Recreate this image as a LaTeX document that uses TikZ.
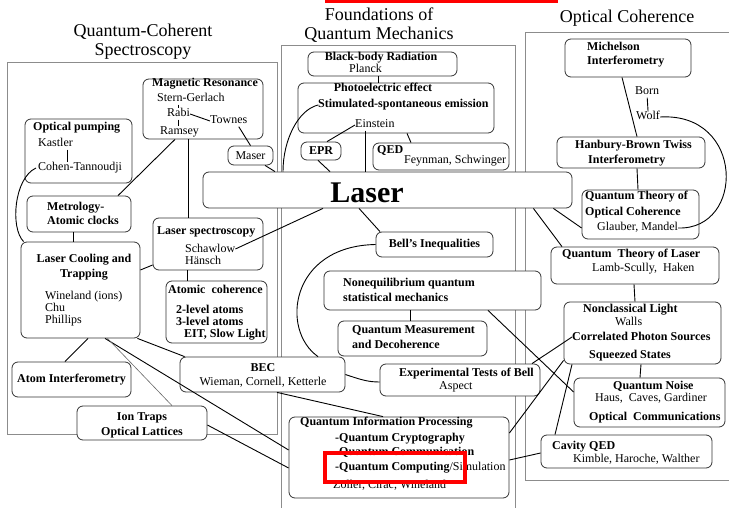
\documentclass[tikz,border=0pt]{standalone}
\usepackage{fontspec}
\setmainfont{Liberation Serif}
\begin{document}
\begin{tikzpicture}[x=1pt,y=-1pt,
    panel/.style={draw=black!45,line width=0.6pt},
    topic/.style={draw=black!80,line width=0.8pt,rounded corners=6pt,fill=white,inner sep=0pt},
    ttl/.style={font=\fontsize{18}{19}\selectfont,align=center,inner sep=0pt},
    hd/.style={inner sep=0pt,anchor=west,font=\fontsize{12}{12}\selectfont\bfseries,text height=8.5pt,text depth=2.5pt},
    nm/.style={inner sep=0pt,anchor=west,font=\fontsize{12}{12}\selectfont,text height=8.5pt,text depth=2.5pt},
    link/.style={draw=black,line width=0.9pt},
    faint/.style={draw=black!60,line width=0.6pt}]

      \useasboundingbox (0,0) rectangle (729,508);
      \clip (0,0) rectangle (729,508);

      % panels
      \draw[panel] (7,62) rectangle (277,434);
      \draw[panel] (281,45) rectangle (515,520);
      \draw[panel] (525,32) rectangle (740,480);
      \node[ttl] (ttlqcs) at (143,42) {Quantum-Coherent\\Spectroscopy};
      \node[ttl] (ttlfqm) at (379,25) {Foundations of\\Quantum Mechanics};
      \node[ttl] (ttloc) at (627,18) {Optical Coherence};

      \begin{scope}[every node/.style={topic}]
        \node[minimum width=120pt,minimum height=60pt] (magres) at (203,109) {};
        \node[minimum width=45pt,minimum height=19pt,font=\fontsize{12}{12}\selectfont] (maser) at (250.5,155.5) {Maser};
        \node[minimum width=107pt,minimum height=64pt] (optpump) at (78.5,151) {};
        \node[minimum width=104pt,minimum height=36pt] (metro) at (79,214) {};
        \node[minimum width=119pt,minimum height=96pt] (cooling) at (80.5,290) {};
        \node[minimum width=110pt,minimum height=52pt] (laserspec) at (208,244) {};
        \node[minimum width=101pt,minimum height=62pt] (atomcoh) at (216.5,312) {};
        \node[minimum width=119pt,minimum height=35pt,font=\fontsize{12}{12}\selectfont\bfseries] (atominterf) at (71.5,379.5) {Atom Interferometry};
        \node[minimum width=165pt,minimum height=35pt] (bec) at (262.5,374.5) {};
        \node[minimum width=130pt,minimum height=34pt] (iontraps) at (142,423) {};
        \node[minimum width=149pt,minimum height=24pt] (blackbody) at (382.5,64) {};
        \node[minimum width=196pt,minimum height=50pt] (photo) at (396,108) {};
        \node[minimum width=40pt,minimum height=18pt,font=\fontsize{12}{12}\selectfont\bfseries] (epr) at (321,151) {EPR};
        \node[minimum width=136pt,minimum height=27pt] (qed) at (441,156.5) {};
        \node[minimum width=369pt,minimum height=36pt] (laser) at (387.5,190) {};
        \node[minimum width=117pt,minimum height=25pt,font=\fontsize{12}{12}\selectfont\bfseries] (bell) at (434.5,244.5) {Bell's Inequalities};
        \node[minimum width=217pt,minimum height=39pt] (noneq) at (432.5,290.5) {};
        \node[minimum width=149pt,minimum height=35pt] (qmeas) at (412.5,338.5) {};
        \node[minimum width=160pt,minimum height=32pt] (exptest) at (460,380) {};
        \node[minimum width=220pt,minimum height=81pt] (qip) at (399,457.5) {};
        \node[minimum width=126pt,minimum height=38pt] (michelson) at (628,58) {};
        \node[minimum width=148pt,minimum height=31pt] (hbt) at (631,152.5) {};
        \node[minimum width=117pt,minimum height=49pt] (qtoc) at (640.5,214.5) {};
        \node[minimum width=168pt,minimum height=37pt] (qtl) at (635,265.5) {};
        \node[minimum width=157pt,minimum height=62pt] (nonclass) at (642.5,333) {};
        \node[minimum width=151pt,minimum height=49pt] (qnoise) at (649.5,402.5) {};
        \node[minimum width=171pt,minimum height=33pt] (cavity) at (626.5,451.5) {};
      \end{scope}

      % texts, left panel
      \node[hd] (magresh) at (152,84) {Magnetic Resonance};
      \node[nm] (sg) at (157,99) {Stern-Gerlach};
      \node[nm] (rabi) at (167,114) {Rabi};
      \node[nm] (townes) at (210,121) {Townes};
      \node[nm] (ramsey) at (160,132) {Ramsey};
      \node[hd] (optpumph) at (33,128) {Optical pumping};
      \node[nm] (kastler) at (38,144) {Kastler};
      \node[nm] (cohen) at (38,168) {Cohen-Tannoudji};
      \node[hd] (metroa) at (47,208) {Metrology-};
      \node[hd] (metrob) at (47,222) {Atomic clocks};
      \node[hd,anchor=center] (coolinga) at (84,259) {Laser Cooling and};
      \node[hd,anchor=center] (coolingb) at (84,274) {Trapping};
      \node[nm] (wineland) at (45,296) {Wineland (ions)};
      \node[nm] (chu) at (45,308) {Chu};
      \node[nm] (phillips) at (45,320) {Phillips};
      \node[hd] (laserspech) at (157,231) {Laser spectroscopy};
      \node[nm] (schawlow) at (185,249) {Schawlow};
      \node[nm] (hansch) at (185,261) {Hänsch};
      \node[hd] (atomcohh) at (168,290) {Atomic\enspace coherence};
      \node[hd] (levtwo) at (176,310) {2-level atoms};
      \node[hd] (levthree) at (176,322) {3-level atoms};
      \node[hd] (eit) at (184,334) {EIT, Slow Light};
      \node[hd,anchor=center] (bech) at (263,368) {BEC};
      \node[nm,anchor=center] (becn) at (263,382) {Wieman, Cornell, Ketterle};
      \node[hd,anchor=center] (iona) at (142,417) {Ion Traps};
      \node[hd,anchor=center] (ionb) at (142,432) {Optical Lattices};

      % texts, middle panel
      \node[hd,anchor=center] (bbh) at (381,58) {Black-body Radiation};
      \node[nm] (planck) at (349,70) {Planck};
      \node[hd,anchor=center] (photoh) at (383,89) {Photoelectric effect};
      \node[hd] (stim) at (318,105) {Stimulated-spontaneous emission};
      \node[nm] (einstein) at (355,125) {Einstein};
      \node[hd] (qedh) at (377,151) {QED};
      \node[nm] (feynman) at (404,161) {Feynman, Schwinger};
      \node[inner sep=0pt,anchor=base,font=\fontsize{30}{30}\selectfont\bfseries] (lasert) at (367,203) {Laser};
      \node[hd] (noneqa) at (343,283) {Nonequilibrium quantum};
      \node[hd] (noneqb) at (343,298) {statistical mechanics};
      \node[hd] (qmeasa) at (352,330) {Quantum Measurement};
      \node[hd] (qmeasb) at (352,345) {and Decoherence};
      \node[hd] (exph) at (399,373) {Experimental Tests of Bell};
      \node[nm] (aspect) at (439,386) {Aspect};
      \node[hd] (qiph) at (300,422) {Quantum Information Processing};
      \node[hd] (crypt) at (335,438) {-Quantum Cryptography};
      \node[hd] (comm) at (335,452) {-Quantum Communication};
      \node[hd] (comp) at (335,467) {-Quantum Computing{\mdseries/Simulation}};
      \node[nm] (zoller) at (333,485) {Zoller, Cirac, Wineland};

      % texts, right panel
      \node[hd] (micha) at (587,48) {Michelson};
      \node[hd] (michb) at (587,62) {Interferometry};
      \node[nm] (born) at (635,92) {Born};
      \node[nm] (wolf) at (636,117) {Wolf};
      \node[hd] (hbta) at (575,146) {Hanbury-Brown Twiss};
      \node[hd] (hbtb) at (588,161) {Interferometry};
      \node[hd] (qtoca) at (585,197) {Quantum Theory of};
      \node[hd] (qtocb) at (585,212) {Optical Coherence};
      \node[nm] (glauber) at (597,228) {Glauber, Mandel};
      \node[hd] (qtlh) at (562,255) {Quantum\enspace Theory of Laser};
      \node[nm] (lamb) at (592,268) {Lamb-Scully,\enspace Haken};
      \node[hd] (nch) at (583,309) {Nonclassical Light};
      \node[nm] (walls) at (615,322) {Walls};
      \node[hd] (corr) at (572,337) {Correlated Photon Sources};
      \node[hd] (squeezed) at (589,355) {Squeezed States};
      \node[hd] (qnh) at (613,386) {Quantum Noise};
      \node[nm] (haus) at (595,398) {Haus,\enspace Caves, Gardiner};
      \node[hd] (optcomm) at (589,417) {Optical\enspace Communications};
      \node[hd] (cavh) at (552,446) {Cavity QED};
      \node[nm] (kimble) at (573,459) {Kimble, Haroche, Walther};

      % connectors
      \begin{scope}[link]
        \draw ([xshift=-28pt]magres.south) -- ([xshift=39pt]metro.north);
        \draw ([xshift=-15pt]magres.south) -- ([xshift=-20pt]laserspec.north);
        \draw (sg.south -| rabi) -- (rabi.north);
        \draw (rabi.south) -- (rabi.south |- ramsey.north);
        \draw (rabi.east) -- (townes.west);
        \draw ([xshift=10pt]townes.south) -- (maser.north);
        \draw ([xshift=14.5pt]maser.south) -- ([xshift=-112.5pt]laser.north);
        \draw ([xshift=-2pt]cohen.west) .. controls (14,178) and (10,228) .. ([xshift=3pt]cooling.north west);
        \draw ([xshift=12pt]kastler.south) -- ([xshift=12pt]kastler.south |- cohen.north);
        \draw ([xshift=-6pt]metro.south) -- ([xshift=-7.5pt]cooling.north);
        \draw ([yshift=20pt]cooling.east) -- ([yshift=-21pt]laserspec.west);
        \draw (schawlow.east) -- ([xshift=-64.5pt]laser.south);
        \draw ([xshift=-21pt]laserspec.south) -- ([xshift=-29.5pt]atomcoh.north);
        \draw ([xshift=7.5pt]cooling.south) -- ([xshift=-6.5pt]atominterf.north);
        \draw ([xshift=-3pt]cooling.south east) -- ([xshift=5pt]bec.north west);
        \draw ([xshift=24.5pt]cooling.south) -- ([yshift=7.5pt]qip.west);
        \draw[faint] ([xshift=27pt]cooling.south) -- ([xshift=30pt]iontraps.north);
        \draw ([yshift=-2pt]iontraps.east) -- ([yshift=-10.5pt]qip.west);
        \draw ([xshift=14.5pt]bec.south) -- ([xshift=-16pt]qip.north);
        \draw (bec.east) .. controls +(15,5) and +(-12,0) .. ([yshift=-2pt]exptest.west);
        \draw ([xshift=-4.5pt]blackbody.south) -- ([xshift=-18pt]photo.north);
        \draw (stim.west) .. controls (298,110) and (283,140) .. ([xshift=-104.5pt]laser.north);
        \draw (einstein.west) -- ([xshift=6pt]epr.north);
        \draw ([xshift=-9pt]einstein.south) -- ([xshift=-9pt]einstein.south |- laser.north);
        \draw ([xshift=11pt]photo.south) -- ([xshift=-30pt]qed.north);
        \draw ([xshift=-3pt]epr.south) -- ([xshift=-57.5pt]laser.north);
        \draw ([xshift=-28.5pt]laser.south) -- ([xshift=-54.5pt]bell.north);
        \draw (bell.west) .. controls (290,246) and (280,330) .. ([xshift=55.5pt]bec.north);
        \draw ([xshift=-22.5pt]noneq.south) -- ([xshift=-2.5pt]qmeas.north);
        \draw ([xshift=55.5pt]noneq.south) -- ([yshift=10.5pt]qnoise.west);
        \draw ([xshift=72pt]exptest.north) -- (corr.west);
        \draw ([yshift=24.5pt]qip.east) -- ([yshift=4pt]nonclass.south west);
        \draw ([yshift=-2.5pt]qip.east) -- ([yshift=-1.5pt]cavity.west);
        \draw ([xshift=-6pt]michelson.south) -- ([xshift=6pt]hbt.north);
        \draw (born.south) -- (wolf.north);
        \draw (wolf.east) .. controls (745,112) and (745,230) .. (glauber.east);
        \draw ([xshift=6pt]hbt.south) -- ([xshift=-2.5pt]qtoc.north);
        \draw ([xshift=-19pt]laser.south east) -- ([yshift=-13.5pt]qtoc.west);
        \draw ([xshift=-39pt]laser.south east) -- ([xshift=-73pt]qtl.north);
        \draw ([xshift=-1pt]qtl.south) -- ([xshift=-7.5pt]nonclass.north);
        \draw ([xshift=-1.5pt]nonclass.south) -- ([xshift=-9.5pt]qnoise.north);
        \draw ([xshift=-70.5pt]nonclass.south) -- ([xshift=-71.5pt]cavity.north);
      \end{scope}

      % red marks
      \fill[red] (325,0) rectangle (558,3.5);
      \draw[red,line width=4pt] (325,453) rectangle (465,482);

\end{tikzpicture}
\end{document}
